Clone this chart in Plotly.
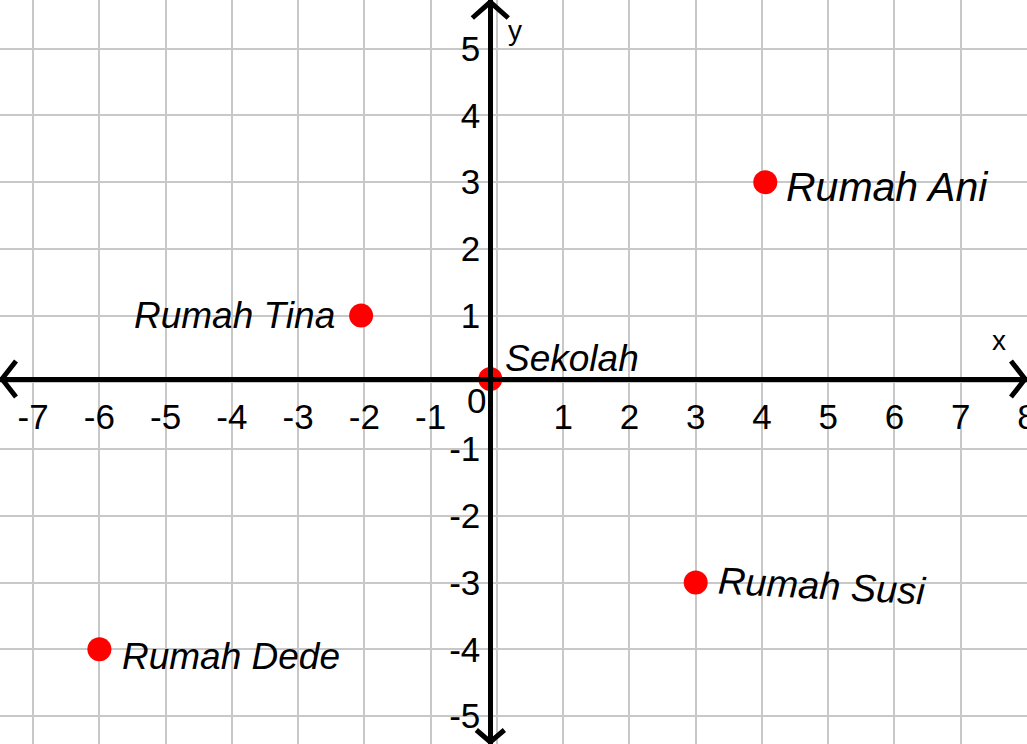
import plotly.graph_objects as go

# ---------------------------------------------
#   data
# ---------------------------------------------
places = ['Sekolah', 'Rumah Ani', 'Rumah Tina', 'Rumah Susi', 'Rumah Dede']
place_x = [-0.1, 4.05, -2.05, 3.0, -6.0]
place_y = [0.05, 3.0, 1.0, -3.0, -4.0]

x_ticks = [-7, -6, -5, -4, -3, -2, -1, 0, 1, 2, 3, 4, 5, 6, 7, 8]
y_ticks = [-5, -4, -3, -2, -1, 0, 1, 2, 3, 4, 5]

x_range = [-7.5, 8.0]
y_range = [-5.42, 5.73]

W, H = 1027, 744
FONT = 'Liberation Sans, Arial, sans-serif'

# where the black axes cross (at the Sekolah point)
ax_px = (place_x[0] - x_range[0]) / (x_range[1] - x_range[0])
ax_py = (place_y[0] - y_range[0]) / (y_range[1] - y_range[0])

fig = go.Figure()

fig.add_trace(go.Scatter(
    x=place_x, y=place_y, mode='markers',
    marker=dict(color='#ff0000', size=24, line=dict(width=0)),
    hoverinfo='text', text=places, showlegend=False,
))

# label offsets (pixels) and anchors for each place
label_opts = {
    'Sekolah':    dict(xanchor='left', xshift=13, yshift=21, size=37, angle=0),
    'Rumah Ani':  dict(xanchor='left', xshift=19, yshift=-5, size=41, angle=0),
    'Rumah Tina': dict(xanchor='right', xshift=-24, yshift=0, size=37, angle=0),
    'Rumah Susi': dict(xanchor='left', xshift=19, yshift=-3, size=38, angle=3),
    'Rumah Dede': dict(xanchor='left', xshift=21, yshift=-7, size=37, angle=0),
}
for name, px_, py_ in zip(places, place_x, place_y):
    o = label_opts[name]
    fig.add_annotation(x=px_, y=py_, text='<i>' + name + '</i>', showarrow=False,
                       xanchor=o['xanchor'], yanchor='middle',
                       xshift=o['xshift'], yshift=o['yshift'], textangle=o['angle'],
                       font=dict(family=FONT, size=o['size'], color='black'))

# "0" sits left of the y axis, below the x axis
fig.add_annotation(x=place_x[0], y=place_y[0], text='0', showarrow=False,
                   xanchor='right', yanchor='middle', xshift=-2, yshift=-21,
                   font=dict(family=FONT, size=35, color='black'))

# axis names
fig.add_annotation(x=1008 / W, y=1 - 340 / H, xref='paper', yref='paper', text='x',
                   showarrow=False, font=dict(family=FONT, size=28, color='black'))
fig.add_annotation(x=515 / W, y=1 - 13 / H, xref='paper', yref='paper', text='y',
                   showarrow=False, font=dict(family=FONT, size=28, color='black'))

# arrow chevrons at the ends of the axes (pixel offsets from the tips)
def chevron(tip, a, b):
    pts = [a, tip, b]
    return 'M ' + ' L '.join('%.4f,%.4f' % (p[0] / W, 1 - p[1] / H) for p in pts)

cx = ax_px * W
cy = (1 - ax_py) * H
chevrons = [
    chevron((2, cy), (16, cy - 18), (16, cy + 18)),
    chevron((W - 2, cy), (W - 16, cy - 18), (W - 16, cy + 18)),
    chevron((cx, 2), (cx - 18, 18), (cx + 18, 18)),
    chevron((cx, H - 2), (cx - 14, H - 14), (cx + 14, H - 14)),
]
for p in chevrons:
    fig.add_shape(type='path', path=p, xref='paper', yref='paper',
                  line=dict(color='black', width=5))

fig.update_xaxes(
    range=x_range, tickvals=x_ticks,
    ticktext=['' if v == 0 else str(v) for v in x_ticks],
    showgrid=True, gridcolor='#c8c8c8', gridwidth=1.5, zeroline=False,
    showline=True, linecolor='black', linewidth=5,
    anchor='free', position=ax_py, side='bottom', ticks='',
    ticklabelstandoff=5, automargin=False, ticklabeloverflow='allow',
    tickfont=dict(family=FONT, size=35, color='black'),
)
fig.update_yaxes(
    range=y_range, tickvals=y_ticks,
    ticktext=['' if v == 0 else str(v) for v in y_ticks],
    showgrid=True, gridcolor='#c8c8c8', gridwidth=1.5, zeroline=False,
    showline=True, linecolor='black', linewidth=5,
    anchor='free', position=ax_px, side='left', ticks='',
    ticklabelstandoff=1, automargin=False, ticklabeloverflow='allow',
    tickfont=dict(family=FONT, size=35, color='black'),
)

fig.update_layout(
    width=W, height=H, margin=dict(l=0, r=0, t=0, b=0),
    plot_bgcolor='white', paper_bgcolor='white',
)

# page body has a default 8px margin; drop it so the figure fills the window
fig.write_html('out.html', config={'displayModeBar': False},
               post_script="document.body.style.margin='0';")
